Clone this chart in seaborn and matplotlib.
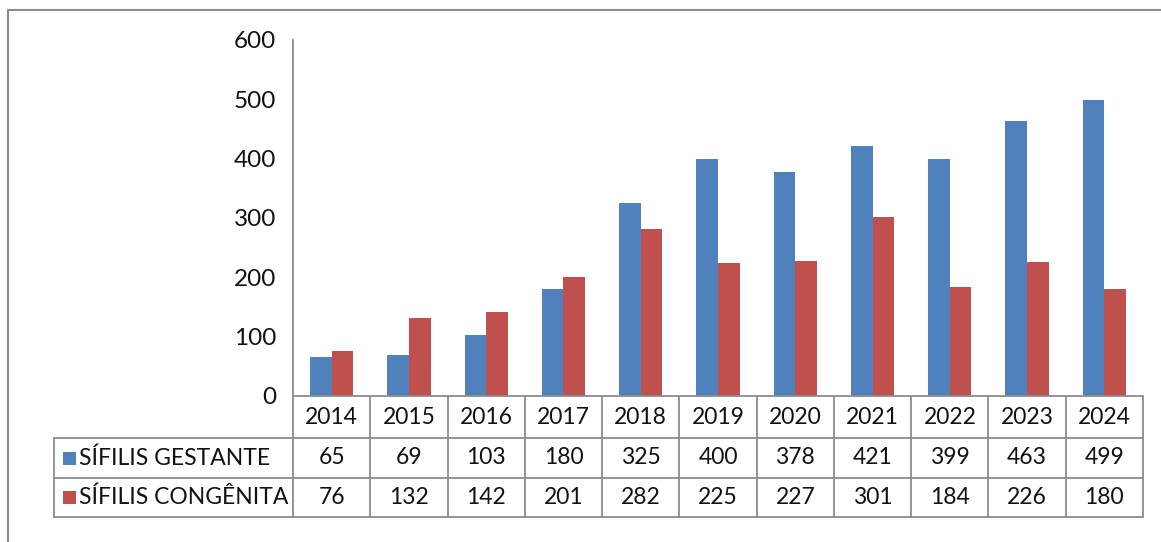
import matplotlib
matplotlib.use("Agg")
import matplotlib.pyplot as plt
from matplotlib.lines import Line2D
from matplotlib.patches import Rectangle
import seaborn as sns
import pandas as pd

anos = ["2014", "2015", "2016", "2017", "2018", "2019", "2020", "2021", "2022", "2023", "2024"]
series = ["SÍFILIS GESTANTE", "SÍFILIS CONGÊNITA"]
gestante = [65, 69, 103, 180, 325, 400, 378, 421, 399, 463, 499]
congenita = [76, 132, 142, 201, 282, 225, 227, 301, 184, 226, 180]
y_ticks = [0, 100, 200, 300, 400, 500, 600]

cores = ["#4F81BD", "#C0504D"]
cinza = "#8C8C8C"

df = pd.DataFrame({
    "ano": anos * 2,
    "valor": gestante + congenita,
    "serie": [series[0]] * len(anos) + [series[1]] * len(anos),
})

sns.set_theme(style="white")
plt.rcParams["font.family"] = ["Lato", "DejaVu Sans"]

W, H = 1161, 542
fig = plt.figure(figsize=(W / 100, H / 100), dpi=100)

# plot area in pixel coordinates
x0, x1, ytop, ybot = 293, 1143, 40, 396
ax = fig.add_axes([x0 / W, (H - ybot) / H, (x1 - x0) / W, (ybot - ytop) / H])

sns.barplot(data=df, x="ano", y="valor", hue="serie", order=anos,
            hue_order=series, palette=cores, width=0.56, saturation=1,
            edgecolor="none", linewidth=0, legend=False, ax=ax)

ax.set_xlim(-0.5, len(anos) - 0.5)
ax.set_ylim(0, 600)
ax.set_yticks(y_ticks)
ax.set_yticklabels([str(v) for v in y_ticks], fontsize=17.5, color="#111111")
ax.tick_params(axis="y", length=0, pad=12)
ax.set_xticks([])
ax.set_xlabel("")
ax.set_ylabel("")
for s in ["top", "right", "bottom"]:
    ax.spines[s].set_visible(False)
ax.spines["left"].set_color(cinza)
ax.spines["left"].set_linewidth(1.3)

# data table below the plot
ppu = (x1 - x0) / len(anos)          # pixels per category
def yax(py):
    return (ybot - py) / (ybot - ytop)

r0, r1, r2, r3 = yax(396), yax(438), yax(478), yax(517)
leg_left = -0.5 - (x0 - 54) / ppu
tr = ax.get_xaxis_transform()
lk = dict(color=cinza, linewidth=1.3, transform=tr, clip_on=False)

# horizontal rules
ax.add_line(Line2D([-0.5, len(anos) - 0.5], [r0, r0], **lk))
for r in (r1, r2, r3):
    ax.add_line(Line2D([leg_left, len(anos) - 0.5], [r, r], **lk))
# vertical rules
for i in range(len(anos) + 1):
    ax.add_line(Line2D([i - 0.5, i - 0.5], [r0, r3], **lk))
ax.add_line(Line2D([leg_left, leg_left], [r1, r3], **lk))

fs = 16.5
tk = dict(ha="center", va="center", fontsize=fs, color="#111111",
          transform=tr, clip_on=False)
for i, a in enumerate(anos):
    ax.text(i, (r0 + r1) / 2, a, **tk)
    ax.text(i, (r1 + r2) / 2, str(gestante[i]), **tk)
    ax.text(i, (r2 + r3) / 2, str(congenita[i]), **tk)

# legend keys inside the table
sq = 13 / ppu
sq_h = 13 / (ybot - ytop)
key_x = -0.5 - (x0 - 63) / ppu
for j, (nome, rb, rt) in enumerate([(series[0], r2, r1), (series[1], r3, r2)]):
    yc = (rb + rt) / 2
    ax.add_patch(Rectangle((key_x, yc - sq_h / 2), sq, sq_h, facecolor=cores[j],
                           edgecolor="none", transform=tr, clip_on=False))
    ax.text(key_x + sq + 3 / ppu, yc, nome, ha="left", va="center",
            fontsize=fs, color="#111111", transform=tr, clip_on=False)

# chart frame
fk = dict(color="#8C8C8C", linewidth=1.5, transform=fig.transFigure)
fig.add_artist(Line2D([8 / W, 1.0], [1 - 10 / H, 1 - 10 / H], **fk))
fig.add_artist(Line2D([8 / W, 8 / W], [0, 1 - 10 / H], **fk))

fig.savefig("out.png", dpi=100)
